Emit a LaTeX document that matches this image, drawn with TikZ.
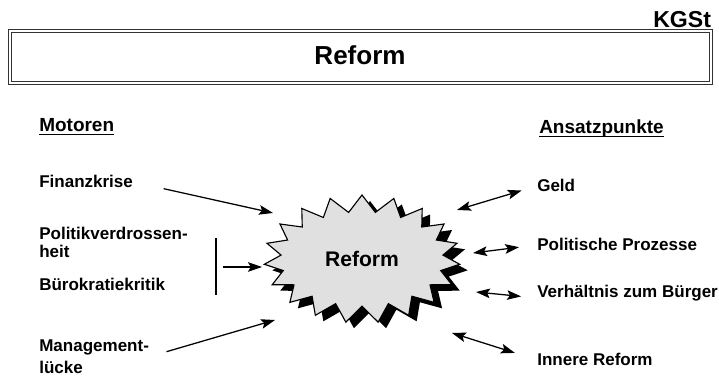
\documentclass[tikz,border=0pt]{standalone}
\usepackage{fontspec}
\setmainfont{Liberation Sans}
\usetikzlibrary{arrows.meta,shapes.symbols,shadows}

\tikzset{
  ueber/.style={font=\bfseries\fontsize{13.5}{15}\selectfont, inner sep=0pt, anchor=base west},
  punkt/.style={font=\bfseries\fontsize{12.1}{13.5}\selectfont, inner sep=0pt, anchor=base west, align=left},
  pfeil/.style={-{Stealth[length=3.5mm,width=2.4mm,inset=0.7mm]}, line width=0.9pt},
  doppel/.style={{Stealth[length=3.5mm,width=2.4mm,inset=0.7mm]}-{Stealth[length=3.5mm,width=2.4mm,inset=0.7mm]}, line width=0.9pt},
  rahmen/.style={draw=black!80, line width=0.5pt, double=white, double distance=1.2pt}
}

\begin{document}
\begin{tikzpicture}[x=0.025cm,y=-0.025cm]
	% one unit = one pixel of the slide, y runs downwards
	\useasboundingbox (0,0) rectangle (719,379);
	
	% Kopf
	\node[font=\bfseries\fontsize{16.4}{18}\selectfont, inner sep=0pt, anchor=base west] (kgst) at (653,28) {KGSt};
	\draw[line width=1pt] ([yshift=-1.6pt]kgst.base west) -- ([yshift=-1.6pt]kgst.base east);
	\draw[rahmen] (10,31) rectangle (711,83);
	\node[font=\bfseries\fontsize{18.5}{20}\selectfont, inner sep=0pt, anchor=base] (titel) at (360,65) {Reform};
	
	% Stern in der Mitte
	\node[starburst, starburst points=19, starburst point height=0.42cm, random starburst=0,
	      minimum width=4.9cm, minimum height=3.2cm, fill=black!12, draw, line width=0.8pt,
	      drop shadow={shadow xshift=0.2cm, shadow yshift=-0.15cm, fill=black, opacity=1},
	      font=\bfseries\fontsize{15}{17}\selectfont] (reform) at (362,259) {Reform};
	
	% Motoren
	\node[ueber] (motoren) at (39,132) {Motoren};
	\draw[line width=0.9pt] ([yshift=-1.6pt]motoren.base west) -- ([yshift=-1.6pt]motoren.base east);
	
	\node[punkt] (finanz) at (39,188) {Finanzkrise};
	\node[punkt] (politik) at (39,258) {Politikverdrossen-\\heit};
	\node[punkt] (buero) at (39,291) {Bürokratiekritik};
	\node[punkt] (management) at (39,374) {Management-\\[0.1cm]lücke};
	
	% Ansatzpunkte
	\node[ueber] (ansatz) at (539,134) {Ansatzpunkte};
	\draw[line width=0.9pt] ([yshift=-1.6pt]ansatz.base west) -- ([yshift=-1.6pt]ansatz.base east);
	
	\node[punkt] (geld) at (537,192) {Geld};
	\node[punkt] (prozesse) at (537,251) {Politische Prozesse};
	\node[punkt] (buerger) at (537,298) {Verhältnis zum Bürger};
	\node[punkt] (innere) at (537,366) {Innere Reform};
	
	% Pfeilenden am Stern
	\coordinate (ein1) at (273,213);
	\coordinate (ein2) at (262,267);
	\coordinate (ein3) at (275,320);
	\coordinate (aus1) at (457,210);
	\coordinate (aus2) at (473,253);
	\coordinate (aus3) at (476,292);
	\coordinate (aus4) at (452,333);
	\coordinate (klammer-o) at (216,238);
	\coordinate (klammer-u) at (216,295);
	\coordinate (klammer-m) at (216,267);
	
	\draw[pfeil, shorten <=0.78cm] (finanz.east) -- (ein1);
	\draw[line width=1pt] (klammer-o) -- (klammer-u);
	\draw[pfeil, shorten <=0.17cm] (klammer-m) -- (ein2);
	\draw[pfeil, shorten <=0.45cm] (management.east) -- (ein3);
	
	\draw[doppel, shorten >=0.4cm] (aus1) -- (geld.west);
	\draw[doppel, shorten >=0.45cm] (aus2) -- (prozesse.west);
	\draw[doppel, shorten >=0.4cm] (aus3) -- (buerger.base west);
	\draw[doppel, shorten >=0.58cm] (aus4) -- (innere.west);
	
\end{tikzpicture}
\end{document}
